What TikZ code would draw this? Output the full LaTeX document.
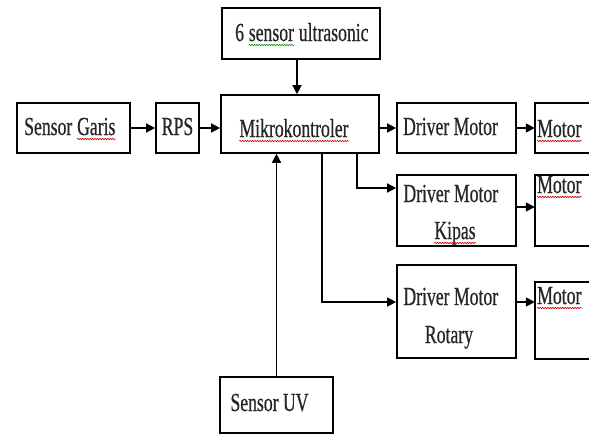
\documentclass[tikz,border=0pt]{standalone}
\usepackage{fontspec}
\setmainfont[FakeStretch=0.68,FakeBold=0.6]{Liberation Serif}
\usetikzlibrary{arrows.meta,decorations.pathmorphing}
\begin{document}
\begin{tikzpicture}[x=1pt,y=-1pt,
  box/.style={draw, line width=1.7pt, inner sep=0pt},
  openbox/.style={inner sep=0pt},
  lbl/.style={inner sep=0pt, font=\fontsize{26}{30}\selectfont, anchor=base, text=black!85},
  arr/.style={line width=1.6pt, -{Triangle[length=9pt,width=9pt]}},
  wave/.style={decorate, decoration={snake, amplitude=0.7pt, segment length=2.5pt}, line width=0.6pt}]
\useasboundingbox (0,0) rectangle (589,434);
% boxes
\node[box, minimum width=113pt, minimum height=50pt] (sg) at (73.5,128) {};
\node[box, minimum width=43pt, minimum height=50pt] (rps) at (177.5,128) {};
\node[box, minimum width=158pt, minimum height=58pt] (mk) at (300,124) {};
\node[box, minimum width=158pt, minimum height=51pt] (us) at (301,33.5) {};
\node[box, minimum width=113pt, minimum height=56pt] (uv) at (276.5,405) {};
\node[box, minimum width=119pt, minimum height=50pt] (dm1) at (456.5,128) {};
\node[box, minimum width=119pt, minimum height=71pt] (dm2) at (456.5,210.5) {};
\node[box, minimum width=119pt, minimum height=93pt] (dm3) at (456.5,311.5) {};
\node[openbox, minimum width=60pt, minimum height=50pt] (m1) at (565,128) {};
\node[openbox, minimum width=60pt, minimum height=71pt] (m2) at (565,210.5) {};
\node[openbox, minimum width=60pt, minimum height=77pt] (m3) at (565,320.5) {};
\foreach \m in {m1,m2,m3}
  \draw[line width=1.7pt] (\m.north east) -- (\m.north west) -- (\m.south west) -- (\m.south east);
% texts
\node[lbl, anchor=base west] (sgt1) at (24,135) {Sensor};
\node[lbl, anchor=base west] (sgt2) at ([xshift=4.4pt]sgt1.base east) {Garis};
\node[lbl] (rpst) at (177.5,135) {RPS};
\node[lbl] (mkt) at (294,137) {Mikrokontroler};
\node[lbl, anchor=base west] (ust1) at (235,41) {6};
\node[lbl, anchor=base west] (ust2) at ([xshift=4.4pt]ust1.base east) {sensor};
\node[lbl, anchor=base west] (ust3) at ([xshift=4.4pt]ust2.base east) {ultrasonic};
\node[lbl] (uvt) at (269.5,411) {Sensor UV};
\node[lbl] (dm1t) at (450.5,135) {Driver Motor};
\node[lbl] (dm2t1) at (450.8,202) {Driver Motor};
\node[lbl] (dm2t2) at (455,239) {Kipas};
\node[lbl] (dm3t1) at (450.8,305) {Driver Motor};
\node[lbl] (dm3t2) at (449,343) {Rotary};
\node[lbl, anchor=base west] (m1t) at (537,137) {Motor};
\node[lbl, anchor=base west] (m2t) at (537,193) {Motor};
\node[lbl, anchor=base west] (m3t) at (537,304) {Motor};
% spell-check underlines
\foreach \t in {sgt2,mkt,m1t,m2t,m3t,dm2t2}
  \draw[wave, red!80!black] ([yshift=-4pt]\t.base west) -- ([yshift=-4pt]\t.base east);
\draw[wave, green!60!black] ([yshift=-4pt]ust2.base west) -- ([yshift=-4pt]ust2.base east);
% connectors
\draw[arr] (sg.east) -- (rps.west);
\draw[arr] (rps.east) -- (sg.east -| mk.west);
\draw[arr] (us.south -| 297,0) -- (mk.north -| 297,0);
\draw[arr] (uv.north) -- (mk.south -| uv.north);
\draw[arr] (mk.east |- dm1.west) -- (dm1.west);
\draw[arr] (dm1.east) -- (m1.west);
\coordinate (b2) at (357,0);
\coordinate (b3) at (322,0);
\draw[arr] (mk.south -| b2) |- (dm2.west |- 0,188);
\draw[arr] (dm2.east |- 0,207) -- (m2.west |- 0,207);
\draw[arr] (mk.south -| b3) |- (dm3.west |- 0,302);
\draw[arr] (dm3.east |- 0,302) -- (m3.west |- 0,302);
\end{tikzpicture}
\end{document}
